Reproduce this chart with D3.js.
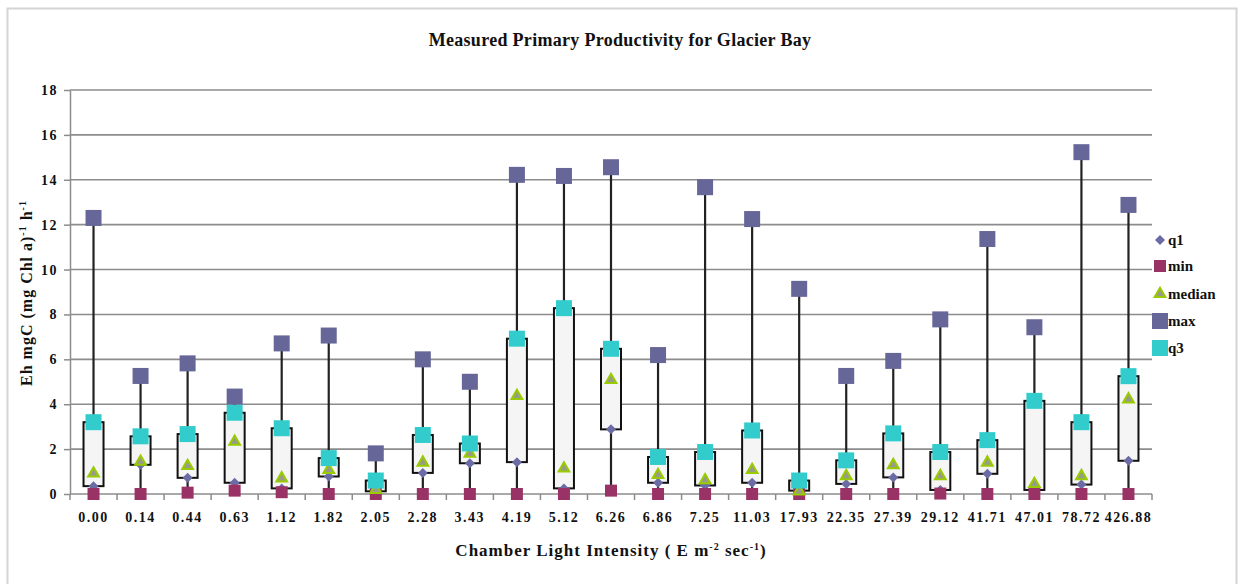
<!DOCTYPE html>
<html>
<head>
<meta charset="utf-8">
<script src="https://cdn.jsdelivr.net/npm/d3@7"></script>
<style>
  body { margin: 0; background: #fff; }
  svg { display: block; font-family: "Liberation Serif", "Times New Roman", serif; font-weight: bold; }
  .axis path, .axis line { stroke: #8c8c8c; stroke-width: 1.5; }
  .axis text { font-family: "Liberation Serif", serif; font-weight: bold; font-size: 14px; fill: #111; letter-spacing: 1.5px; }
</style>
</head>
<body>
<script>
var width = 1241,
  height = 584,
  plotLeft = 70,
  plotRight = 1152,
  plotTop = 90,
  plotBottom = 494;

// light intensity categories (x tick labels)
var labels = ["0.00", "0.14", "0.44", "0.63", "1.12", "1.82", "2.05", "2.28", "3.43", "4.19", "5.12", "6.26",
  "6.86", "7.25", "11.03", "17.93", "22.35", "27.39", "29.12", "41.71", "47.01", "78.72", "426.88"];

var q1Vals = [0.35, 1.3, 0.72, 0.5, 0.25, 0.78, 0.12, 0.94, 1.37, 1.42, 0.25, 2.88, 0.5, 0.38, 0.5, 0.15, 0.45, 0.74, 0.18, 0.9, 0.18, 0.42, 1.48];
var minVals = [0, 0, 0.06, 0.15, 0.08, 0, 0, 0, 0, 0, 0, 0.15, 0, 0, 0, 0, 0, 0, 0.02, 0, 0, 0, 0];
var medianVals = [0.92, 1.44, 1.25, 2.33, 0.7, 1.07, 0.18, 1.4, 1.8, 4.37, 1.14, 5.08, 0.85, 0.62, 1.07, 0.12, 0.8, 1.29, 0.8, 1.4, 0.45, 0.8, 4.22];
var maxVals = [12.3, 5.26, 5.82, 4.34, 6.71, 7.06, 1.81, 6.0, 5.0, 14.22, 14.17, 14.56, 6.19, 13.67, 12.25, 9.14, 5.26, 5.93, 7.78, 11.36, 7.43, 15.23, 12.88];
var q3Vals = [3.2, 2.57, 2.67, 3.62, 2.93, 1.6, 0.6, 2.63, 2.25, 6.92, 8.28, 6.47, 1.65, 1.87, 2.83, 0.6, 1.5, 2.7, 1.87, 2.4, 4.15, 3.2, 5.25];

var yTicks = [0, 2, 4, 6, 8, 10, 12, 14, 16, 18];

var rows = labels.map((l, i) => ({
  label: l, q1: q1Vals[i], min: minVals[i], median: medianVals[i], max: maxVals[i], q3: q3Vals[i]
}));

// series in legend order, drawn in this order too (q1 diamond = square turned 45deg)
var series = [
  { key: "q1", name: "q1", symbol: d3.symbolSquare, size: 50, rot: 45, fill: "#6b6ba6", stroke: "none" },
  { key: "min", name: "min", symbol: d3.symbolSquare, size: 144, rot: 0, fill: "#993366", stroke: "none" },
  { key: "median", name: "median", symbol: d3.symbolTriangle, size: 50, rot: 0, fill: "#9a9a8a", stroke: "#99cc00" },
  { key: "max", name: "max", symbol: d3.symbolSquare, size: 256, rot: 0, fill: "#666699", stroke: "none" },
  { key: "q3", name: "q3", symbol: d3.symbolSquare, size: 256, rot: 0, fill: "#33cccc", stroke: "none" }
];

var svg = d3.select("body").append("svg")
  .attr("width", width)
  .attr("height", height);

svg.append("rect")
  .attr("x", 7.5).attr("y", 8.5)
  .attr("width", 1229).attr("height", 620)
  .attr("fill", "#fff")
  .attr("stroke", "#d4d4d4")
  .attr("stroke-width", 2);

var x = d3.scaleBand().domain(labels).range([plotLeft, plotRight]);
var y = d3.scaleLinear().domain([0, 18]).range([plotBottom, plotTop]);

// gridlines
svg.append("g")
  .selectAll("line")
  .data(yTicks.slice(1))
  .enter()
  .append("line")
  .attr("x1", plotLeft).attr("x2", plotRight)
  .attr("y1", (d) => y(d)).attr("y2", (d) => y(d))
  .attr("stroke", "#8c8c8c")
  .attr("stroke-width", 1.6);

// y axis
var yAxis = d3.axisLeft(y).tickValues(yTicks).tickSize(6).tickSizeOuter(0).tickPadding(6);
svg.append("g")
  .attr("class", "axis")
  .attr("transform", `translate(${plotLeft},0)`)
  .call(yAxis);

// x axis: labels at band centres, tick marks at band edges
var xAxis = d3.axisBottom(x).tickSize(0).tickPadding(18);
var xg = svg.append("g")
  .attr("class", "axis")
  .attr("transform", `translate(0,${plotBottom})`)
  .call(xAxis);
xg.select(".domain").attr("d", `M${plotLeft},0H${plotRight}`);

var edges = labels.map((l) => x(l)).concat([plotRight]);
xg.selectAll(".edge")
  .data(edges)
  .enter()
  .append("line")
  .attr("class", "edge")
  .attr("x1", (d) => d).attr("x2", (d) => d)
  .attr("y1", 0).attr("y2", 6);

var cx = (d) => x(d.label) + x.bandwidth() / 2;
var boxW = 20;

// whiskers min..max
svg.append("g")
  .selectAll("line")
  .data(rows)
  .enter()
  .append("line")
  .attr("x1", cx).attr("x2", cx)
  .attr("y1", (d) => y(d.min)).attr("y2", (d) => y(d.max))
  .attr("stroke", "#222")
  .attr("stroke-width", 2.2);

// boxes q1..q3
svg.append("g")
  .selectAll("rect")
  .data(rows)
  .enter()
  .append("rect")
  .attr("x", (d) => cx(d) - boxW / 2)
  .attr("y", (d) => y(d.q3))
  .attr("width", boxW)
  .attr("height", (d) => y(d.q1) - y(d.q3))
  .attr("fill", "#f5f5f5")
  .attr("stroke", "#111")
  .attr("stroke-width", 2);

// markers
series.forEach((s) => {
  svg.append("g")
    .selectAll("path")
    .data(rows)
    .enter()
    .append("path")
    .attr("d", d3.symbol().type(s.symbol).size(s.size))
    .attr("transform", (d) => `translate(${cx(d)},${y(d[s.key])}) rotate(${s.rot})`)
    .attr("fill", s.fill)
    .attr("stroke", s.stroke)
    .attr("stroke-width", 2);
});

// legend
var legendY = [240, 266, 294, 321, 348];
var legend = svg.append("g");
series.forEach((s, i) => {
  var g = legend.append("g").attr("transform", `translate(1160,${legendY[i]})`);
  g.append("path")
    .attr("d", d3.symbol().type(s.symbol).size(s.size))
    .attr("transform", `rotate(${s.rot})`)
    .attr("fill", s.fill)
    .attr("stroke", s.stroke)
    .attr("stroke-width", 2);
  g.append("text")
    .attr("x", 8)
    .attr("y", 5)
    .attr("font-size", 15)
    .attr("fill", "#111")
    .text(s.name);
});

// title
svg.append("text")
  .attr("x", 620)
  .attr("y", 46)
  .attr("text-anchor", "middle")
  .attr("font-size", 18)
  .attr("letter-spacing", 0.3)
  .attr("fill", "#111")
  .text("Measured Primary Productivity for  Glacier Bay");

// y title
svg.append("text")
  .attr("transform", "translate(32,293) rotate(-90)")
  .attr("text-anchor", "middle")
  .attr("font-size", 16)
  .attr("letter-spacing", 1)
  .attr("fill", "#111")
  .html('Eh mgC (mg Chl a)<tspan dy="-6" font-size="10">-1</tspan><tspan dy="6"> h</tspan><tspan dy="-6" font-size="10">-1</tspan>');

// x title
svg.append("text")
  .attr("x", 611)
  .attr("y", 556)
  .attr("text-anchor", "middle")
  .attr("font-size", 17)
  .attr("letter-spacing", 1)
  .attr("fill", "#111")
  .html('Chamber Light Intensity (  E m<tspan dy="-6" font-size="10">-2</tspan><tspan dy="6"> sec</tspan><tspan dy="-6" font-size="10">-1</tspan><tspan dy="6">)</tspan>');
</script>
</body>
</html>
